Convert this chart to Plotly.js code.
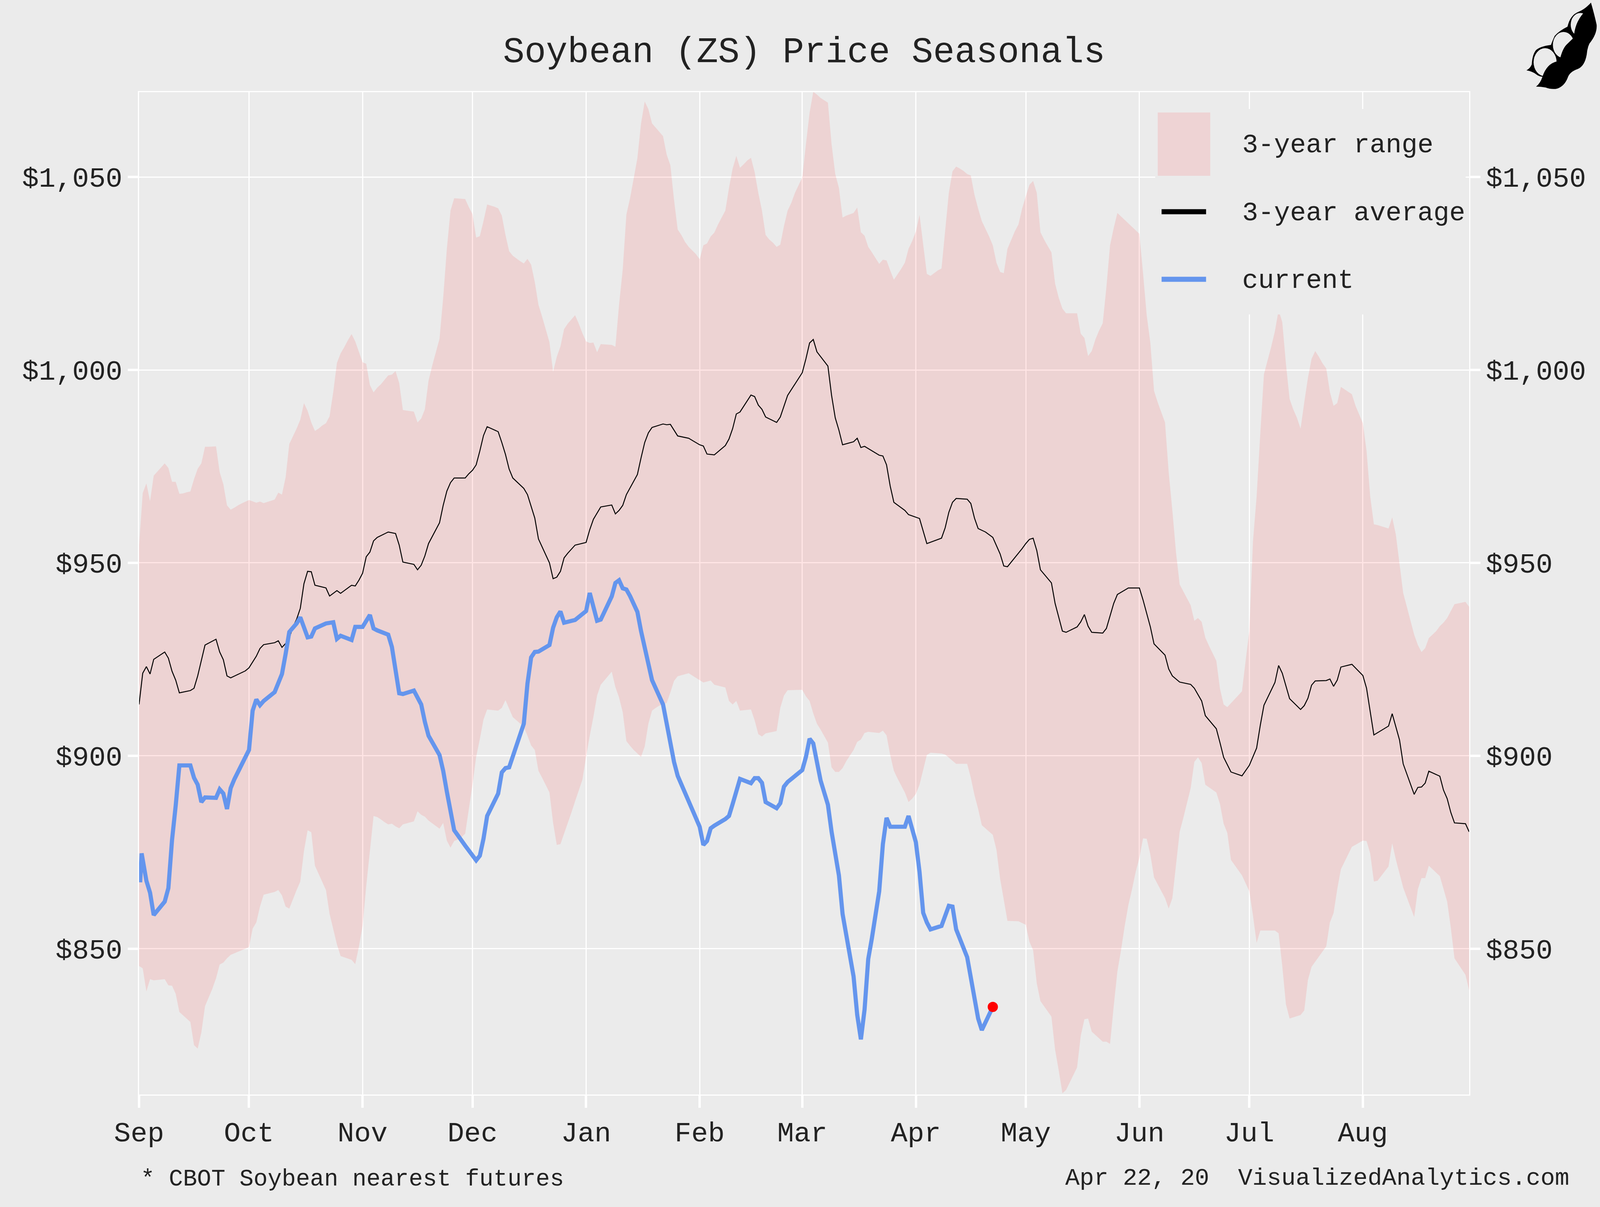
<!DOCTYPE html>
<html>
<head>
<meta charset="utf-8">
<script src="https://cdn.plot.ly/plotly-3.0.1.min.js"></script>
<style>
html, body { margin: 0; padding: 0; overflow: hidden; background: #ebebeb; }
</style>
</head>
<body>
<div id="chart"></div>
<script>
var monthDays = [0, 30, 61, 91, 122, 153, 181, 212, 242, 273, 303, 334];
var monthLabels = ['Sep', 'Oct', 'Nov', 'Dec', 'Jan', 'Feb', 'Mar', 'Apr', 'May', 'Jun', 'Jul', 'Aug'];
var priceTicks = [850, 900, 950, 1000, 1050];
var priceLabels = ['$850', '$900', '$950', '$1,000', '$1,050'];

var upperDays = [0,1,2,3,4,5,6,7,8,9,10,11,12,13,14,15,16,17,18,19,21,22,23,24,25,26,27,28,30,32,33,34,37,38,39,40,41,42,43,44,45,46,47,48,49,50,51,52,53,54,55,56,57,58,59,60,61,62,63,64,65,66,67,68,69,70,71,72,75,76,77,78,79,80,82,83,84,85,86,89,90,91,92,93,94,95,97,98,99,100,101,102,103,104,105,106,107,108,109,110,112,113,114,115,116,117,118,119,120,121,122,123,124,125,126,129,130,131,132,133,134,135,136,137,138,139,140,141,143,144,145,146,147,148,149,150,151,152,153,154,155,156,157,158,159,160,161,162,163,164,165,166,167,168,169,170,171,172,173,174,175,176,177,178,179,180,181,182,183,184,185,186,188,189,190,191,192,193,195,196,197,198,199,200,201,202,203,204,205,206,207,208,209,210,211,212,213,214,215,216,217,218,219,220,221,222,223,224,225,226,227,228,229,230,231,232,233,234,235,236,237,238,239,240,241,242,243,244,245,246,247,248,249,250,251,252,253,256,257,258,259,260,261,262,263,264,265,266,267,269,271,273,274,275,276,277,278,279,280,281,282,283,284,285,286,287,288,289,290,291,292,293,294,295,296,297,301,302,303,304,305,306,307,308,309,310,311,312,313,314,315,316,317,318,319,320,321,322,323,324,325,326,327,328,331,332,333,334,335,336,337,338,341,342,343,344,345,346,347,348,349,350,351,352,353,354,355,356,357,358,359,362,363];
var upperPrice = [954.6,968.1,970.6,966.0,972.6,973.7,974.7,975.8,974.6,971.0,971.0,967.9,968.0,968.3,968.5,971.7,974.4,975.8,980.1,980.1,980.2,973.5,970.4,964.9,963.8,964.3,964.9,965.4,966.3,965.6,965.9,965.5,966.4,968.2,967.7,972.2,980.8,982.8,984.8,987.1,991.4,989.4,986.4,984.2,984.8,985.6,986.2,988.0,994.3,1001.8,1004.3,1005.9,1007.7,1009.3,1007.4,1004.7,1002.0,1001.6,996.1,994.2,995.4,996.3,997.5,998.6,998.8,999.7,996.6,989.6,989.2,986.4,987.4,989.8,997.2,1001.1,1008.1,1018.7,1031.4,1041.3,1044.5,1044.3,1042.2,1040.4,1034.3,1034.7,1038.6,1042.9,1042.3,1041.9,1040.0,1035.0,1030.8,1029.6,1028.9,1028.2,1027.6,1028.8,1027.3,1022.8,1016.9,1013.8,1007.2,999.5,1003.4,1006.1,1010.6,1012.0,1013.1,1014.2,1012.0,1009.5,1007.4,1007.0,1007.1,1004.6,1006.7,1006.5,1006.0,1016.9,1026.0,1040.3,1044.5,1049.5,1054.9,1063.9,1069.6,1067.6,1063.9,1062.8,1060.6,1055.8,1053.1,1044.1,1036.4,1035.0,1033.2,1031.9,1030.9,1030.0,1028.7,1032.3,1032.8,1034.6,1035.6,1037.7,1039.5,1041.3,1047.2,1052.2,1055.5,1052.4,1053.3,1054.3,1055.0,1051.3,1045.9,1041.3,1035.0,1033.8,1033.0,1031.9,1032.5,1037.3,1041.3,1043.3,1045.9,1047.9,1049.9,1058.5,1066.7,1072.1,1071.4,1070.5,1069.3,1058.5,1050.8,1047.2,1039.5,1040.0,1040.7,1042.1,1035.7,1034.8,1031.9,1030.5,1029.0,1027.5,1028.6,1028.4,1025.8,1023.4,1024.8,1026.2,1027.8,1031.4,1033.4,1035.9,1040.2,1032.3,1024.9,1024.4,1025.1,1025.8,1026.3,1035.9,1045.9,1051.5,1052.7,1052.2,1051.6,1050.8,1050.4,1045.4,1041.8,1038.6,1036.6,1034.6,1032.3,1027.8,1025.4,1025.1,1031.4,1033.6,1035.9,1037.7,1041.8,1045.0,1048.0,1049.0,1045.9,1035.7,1033.8,1032.1,1030.5,1022.4,1018.7,1015.9,1014.7,1014.7,1009.4,1008.3,1003.6,1004.9,1007.9,1010.2,1012.1,1021.4,1032.3,1036.8,1040.7,1038.9,1037.1,1035.3,1025.1,1014.2,1007.0,994.6,991.6,988.9,986.4,973.5,963.6,952.7,944.4,942.6,940.8,939.0,935.0,935.7,934.7,930.6,928.5,926.6,924.6,917.4,913.3,912.6,916.7,924.6,932.3,955.5,967.2,983.5,998.9,1002.5,1006.1,1010.1,1015.5,1012.4,1001.6,992.5,989.8,987.6,984.8,991.6,997.9,1002.9,1004.9,1003.4,1001.7,1000.4,994.3,990.7,991.4,995.6,993.7,990.7,988.4,986.2,979.0,967.2,960.0,959.8,958.9,961.8,957.3,950.0,942.2,938.6,935.0,931.4,928.7,926.9,927.9,930.5,931.4,932.3,933.6,934.5,935.7,937.5,939.3,939.9,938.6];

var lowerDays = [0,1,2,3,4,7,8,9,10,11,14,15,16,17,18,19,20,21,22,23,24,25,26,30,31,32,33,34,37,38,39,40,41,42,43,44,45,46,47,48,49,50,51,52,53,54,55,58,59,60,61,62,63,64,65,66,67,68,69,70,71,72,75,76,77,78,79,80,82,83,84,85,86,87,88,89,90,91,92,93,94,95,98,99,100,101,102,103,104,105,106,107,108,109,110,112,113,114,115,116,117,118,119,120,121,122,123,124,125,126,129,130,131,132,133,134,135,137,138,139,140,141,142,144,145,146,147,150,154,156,157,160,161,162,163,164,167,168,169,170,171,174,175,176,177,181,182,183,184,185,186,188,189,190,191,192,193,195,196,197,198,199,202,203,204,205,206,207,209,210,211,212,213,215,216,219,220,223,226,227,228,229,230,233,234,235,236,237,240,242,243,244,245,246,249,250,251,252,253,256,257,258,259,260,263,264,265,266,267,268,269,270,271,272,273,274,275,276,277,278,279,280,281,282,283,284,285,287,288,289,290,291,294,295,296,297,298,301,303,304,305,306,310,311,312,313,314,317,318,319,320,324,325,326,327,328,331,334,335,336,337,338,341,342,343,345,348,349,350,351,352,355,357,358,359,362,363];
var lowerPrice = [845.5,844.9,838.9,842.1,841.8,842.1,840.5,840.4,838.3,833.6,831.0,825.0,824.1,828.3,835.1,837.4,839.6,842.3,845.9,846.4,847.5,848.4,848.8,850.4,855.2,856.8,860.9,864.0,864.7,865.2,863.8,860.9,860.4,862.9,865.2,867.4,875.3,880.7,880.2,871.5,869.4,867.2,865.2,859.0,855.0,851.1,848.1,847.1,846.0,850.5,855.9,866.3,875.3,884.4,884.1,883.5,882.8,882.2,882.4,881.7,881.2,882.2,883.0,885.6,884.7,884.2,883.2,882.5,881.1,882.6,878.0,876.2,877.9,878.3,878.9,879.8,886.2,892.5,899.7,904.3,909.4,912.0,911.7,912.4,914.4,912.2,910.0,909.2,908.3,907.5,905.2,902.7,901.5,896.1,894.3,890.5,882.6,876.9,877.1,879.8,882.6,885.3,888.2,891.1,893.8,899.7,905.2,910.1,915.6,918.4,921.8,917.8,915.1,911.3,903.8,902.6,901.5,899.7,902.4,908.3,911.7,912.4,913.0,913.7,916.4,919.4,920.6,921.4,919.0,919.5,918.4,917.7,914.2,913.3,914.2,911.7,912.0,909.2,905.6,905.0,905.8,906.4,912.4,915.6,917.0,917.1,915.4,914.2,911.0,908.3,906.8,903.4,897.0,895.8,895.8,896.8,898.6,901.5,903.6,904.2,905.9,906.2,905.9,906.5,905.3,900.2,896.1,894.1,890.5,888.0,888.9,890.1,892.5,900.2,900.8,900.6,900.3,897.9,897.9,894.3,889.8,886.2,882.0,879.5,875.6,868.1,862.7,857.2,857.1,856.2,851.8,849.6,841.0,836.4,832.4,823.8,818.4,812.5,813.4,819.2,827.4,831.7,831.9,828.5,825.9,825.9,825.3,835.1,844.1,849.6,855.9,861.3,865.4,869.9,873.5,878.6,878.5,874.4,868.5,866.7,864.9,863.1,860.4,863.1,871.7,880.3,883.9,891.6,898.4,899.6,898.1,892.5,890.5,887.5,882.4,880.0,873.0,869.0,864.9,858.6,851.5,854.7,854.7,854.0,845.5,835.6,831.9,832.8,834.0,841.9,845.3,850.6,856.8,859.2,865.4,870.6,876.4,878.0,877.9,874.7,867.4,867.6,871.3,877.3,873.1,865.8,858.2,865.4,868.3,868.3,871.5,868.8,862.2,855.4,847.5,843.2,839.2];

var avgDays = [0,1,2,3,4,7,8,9,10,11,14,15,16,17,18,21,22,23,24,25,29,30,32,33,34,37,38,39,40,41,42,43,44,45,46,47,48,51,52,53,54,55,57,58,59,60,61,62,63,64,65,67,68,70,71,72,75,76,77,78,79,82,83,84,85,86,89,90,91,92,93,94,95,98,99,100,101,102,103,105,106,108,109,110,112,113,114,115,116,117,119,122,123,124,126,129,130,131,132,133,136,137,138,139,140,143,144,145,147,150,153,154,155,157,160,161,162,163,164,167,168,169,170,171,174,175,177,181,182,183,184,185,188,189,190,191,192,195,196,197,198,202,203,204,205,206,209,210,213,215,219,220,221,222,223,226,227,228,229,231,233,235,236,237,241,242,243,244,245,246,249,250,251,252,253,256,257,258,259,260,263,264,266,267,270,273,274,276,277,280,281,282,284,287,288,290,291,294,295,296,298,301,303,305,306,307,310,311,312,314,317,318,319,320,321,324,325,326,327,328,331,334,335,337,341,342,344,345,348,349,350,351,352,355,356,357,358,359,362,363];
var avgPrice = [913.3,921.4,923.1,921.2,925.0,926.9,925.3,921.9,919.6,916.3,916.9,917.5,920.7,924.6,928.7,930.2,926.9,924.9,920.7,920.2,922.0,922.8,925.8,927.8,928.8,929.3,929.8,928.1,929.1,930.5,933.4,935.4,938.2,944.6,947.8,947.7,944.2,943.5,941.4,942.1,942.8,942.1,943.5,944.2,944.0,945.5,947.3,951.6,952.8,955.7,956.6,957.5,958.0,957.6,954.6,950.2,949.6,948.2,949.4,951.8,955.0,960.4,964.9,968.6,970.8,972.0,972.0,973.1,974.0,975.4,979.0,983.0,985.3,984.0,981.2,978.1,974.3,972.0,971.1,969.3,967.7,961.6,956.2,954.1,950.0,945.9,946.3,947.8,951.3,952.5,954.6,955.3,958.6,961.3,964.5,965.0,962.7,963.6,964.9,967.7,972.9,977.2,981.2,983.7,985.1,986.0,985.8,985.9,982.9,982.3,980.6,980.3,978.2,978.0,980.4,982.1,984.8,988.6,989.1,993.5,993.1,990.9,989.8,987.8,986.4,987.8,993.4,999.3,1002.9,1007.0,1007.9,1004.7,1001.0,993.4,987.6,984.4,980.6,981.4,982.3,979.9,980.2,977.9,977.7,975.4,969.9,965.7,963.6,962.5,961.5,955.0,956.4,959.1,963.1,965.7,966.7,966.5,965.4,961.6,958.9,958.0,956.6,952.3,949.2,949.0,953.7,955.0,956.1,956.4,953.2,948.2,944.8,939.5,935.9,932.3,932.0,933.4,934.7,936.6,933.6,932.0,931.8,933.0,939.5,941.8,943.5,943.5,940.4,933.4,929.0,926.1,922.5,920.7,919.1,918.5,917.5,914.2,910.4,907.0,903.4,899.6,895.8,894.8,897.5,902.0,907.9,913.1,919.0,923.4,921.4,914.8,912.0,913.0,914.9,918.3,919.4,919.5,919.9,918.0,919.6,923.0,923.7,920.8,917.5,905.4,907.7,910.9,904.1,897.9,890.0,891.8,891.9,892.9,896.0,894.7,891.1,888.9,885.3,882.6,882.4,880.3];

var currentDays = [0.3,0.7,2,3,4,5,7,8,9,10,11,14,15,16,17,18,21,22,23,24,25,26,30,31,32,33,34,37,39,40,41,43,44,46,47,48,51,53,54,55,58,59,61,63,64,65,68,69,70,71,72,75,76,77,78,79,82,83,84,85,86,89,90,92,93,94,95,98,99,100,101,103,105,106,107,108,109,112,113,114,115,116,119,122,123,124,125,126,129,130,131,132,133,134,135,136,137,138,139,140,143,144,145,146,147,150,153,154,155,156,157,160,161,162,163,164,167,168,169,170,171,174,175,176,177,181,182,183,184,185,186,188,189,191,192,193,195,196,197,198,199,200,201,202,203,204,205,209,210,211,212,213,214,215,216,219,220,221,222,223,226,227,228,229,230,232,233];
var currentPrice = [867.2,874.7,867.6,864.5,858.7,860.0,862.2,865.7,878.2,887.1,897.5,897.5,894.3,892.5,888.0,889.2,889.1,891.3,890.2,886.2,891.6,893.9,901.5,911.7,914.6,913.1,914.2,916.5,921.2,926.4,932.1,934.3,935.9,930.7,930.9,933.0,934.3,934.6,930.3,931.1,930.0,933.4,933.4,936.5,933.0,932.5,931.4,928.2,921.4,916.2,916.0,916.9,915.1,913.3,908.8,905.2,900.2,896.1,890.7,885.7,880.7,876.7,875.3,872.9,874.1,878.5,884.4,890.2,895.7,896.8,897.0,902.4,908.3,918.7,925.5,926.9,927.0,928.7,933.2,935.9,937.4,934.5,935.2,937.5,942.2,938.6,935.0,935.3,941.3,944.8,945.5,943.4,943.1,941.4,939.6,937.3,932.3,927.8,922.8,919.6,913.3,908.3,902.5,898.4,894.8,888.0,881.6,876.9,877.9,881.2,881.9,883.6,884.4,887.5,891.1,894.0,892.9,894.2,894.2,893.0,888.0,886.4,887.7,892.0,893.2,896.3,899.7,904.4,903.2,897.9,893.6,887.3,880.3,869.0,859.0,853.6,842.8,832.8,826.5,834.2,847.3,852.7,858.1,864.9,877.1,883.9,881.6,881.6,884.4,880.7,877.6,869.9,859.3,856.8,855.0,855.9,858.6,861.1,860.9,855.0,847.8,842.3,836.4,831.9,828.9,832.6,834.9];

var lastDay = [233];
var lastPrice = [834.9];

var legendNames = ['3-year range', '3-year average', 'current'];

const bg = '#ebebeb';
const monoFont = 'Liberation Mono, monospace';
const rangeFill = 'rgba(255,0,0,0.1)';
const textColor = '#222';

// all sizes below are measured on the 5000x3090 reference, then scaled to the real window
const W = 5000, H = 3090;
const L = 435, R = 4591, T = 236, B = 2802;
const pageW = window.innerWidth, pageH = window.innerHeight;
const sx = pageW / W, sy = pageH / H, k = Math.min(sx, sy);
var paperX = function(px) { return (px - L) / (R - L); };
var paperY = function(py) { return (B - py) / (B - T); };

var beanSvg = "<svg xmlns='http://www.w3.org/2000/svg' viewBox='0 0 900 780' preserveAspectRatio='none'>" +
  "<path fill='black' d='M815,20 Q760,70 700,90 Q620,115 595,205 Q520,235 475,275 Q450,320 440,345 Q340,355 300,385 Q265,420 260,495 Q245,525 210,540 Q270,550 300,570 Q330,590 370,590 L600,500 L820,200 Z'/>" +
  "<circle fill='#ebebeb' cx='385' cy='478' r='108'/><circle fill='#ebebeb' cx='558' cy='345' r='100'/><circle fill='#ebebeb' cx='715' cy='190' r='90'/>" +
  "<path fill='black' d='M815,20 Q850,120 868,190 Q875,260 800,335 Q780,370 775,420 Q755,510 690,530 Q620,550 600,590 Q570,660 500,680 Q450,690 390,672 Q345,665 300,665 Q340,640 360,590 Q400,490 495,472 L525,452 Q550,370 590,340 L655,288 Q660,180 745,100 Q790,60 815,20 Z'/></svg>";

var data = [
  { x: lowerDays, y: lowerPrice, type: 'scatter', mode: 'lines', line: { width: 0 }, hoverinfo: 'skip' },
  { x: upperDays, y: upperPrice, type: 'scatter', mode: 'lines', line: { width: 0 }, fill: 'tonexty', fillcolor: rangeFill, name: legendNames[0] },
  { x: avgDays, y: avgPrice, type: 'scatter', mode: 'lines', line: { color: 'black', width: 3 * k }, name: legendNames[1] },
  { x: currentDays, y: currentPrice, type: 'scatter', mode: 'lines', line: { color: 'cornflowerblue', width: 13 * k }, name: legendNames[2] },
  // on y2 so that the right axis gets drawn
  { x: lastDay, y: lastPrice, yaxis: 'y2', type: 'scatter', mode: 'markers', marker: { color: 'red', size: 32 * k } }
];

var tickFont = { family: monoFont, size: 87 * k, color: textColor };
var legendFont = { family: monoFont, size: 83 * k, color: textColor };

var axisStyle = {
  showgrid: true, gridcolor: 'white', gridwidth: 4 * k,
  showline: true, linecolor: 'white', linewidth: 4 * k,
  ticks: 'outside', tickwidth: 7 * k, tickcolor: 'white',
  tickmode: 'array', tickfont: tickFont, zeroline: false
};

function legendText(name, py) {
  return { text: name, xref: 'paper', yref: 'paper', x: paperX(3879), y: paperY(py), xanchor: 'left', yanchor: 'middle', showarrow: false, font: legendFont };
}

var layout = {
  width: pageW, height: pageH,
  paper_bgcolor: bg, plot_bgcolor: bg,
  margin: { l: L * sx, r: (W - R) * sx, t: T * sy, b: (H - B) * sy },
  showlegend: false,
  title: {
    text: 'Soybean (ZS) Price Seasonals',
    font: { family: monoFont, size: 112 * k, color: textColor },
    xref: 'paper', x: 0.5, xanchor: 'center',
    yref: 'container', y: 1 - 127 / H, yanchor: 'middle'
  },
  xaxis: Object.assign({}, axisStyle, { range: [0, 363], tickvals: monthDays, ticktext: monthLabels, mirror: true, ticklen: 31 * sy, ticklabelstandoff: 0 }),
  yaxis: Object.assign({}, axisStyle, { range: [812.2, 1072], tickvals: priceTicks, ticktext: priceLabels, mirror: true, ticklen: 31 * sx }),
  yaxis2: Object.assign({}, axisStyle, { range: [812.2, 1072], tickvals: priceTicks, ticktext: priceLabels, overlaying: 'y', side: 'right', showgrid: false, ticklen: 31 * sx }),
  shapes: [
    // legend box hides the grid and the fill behind it
    { type: 'rect', xref: 'paper', yref: 'paper', layer: 'above', x0: paperX(3610), x1: paperX(4580), y0: paperY(805), y1: paperY(279), fillcolor: bg, line: { width: 0 } },
    { type: 'rect', xref: 'paper', yref: 'paper', layer: 'above', x0: paperX(3618), x1: paperX(3782), y0: paperY(450), y1: paperY(288), fillcolor: 'rgb(238,211,212)', line: { width: 0 } },
    { type: 'line', xref: 'paper', yref: 'paper', layer: 'above', x0: paperX(3630), x1: paperX(3769), y0: paperY(542), y1: paperY(542), line: { color: 'black', width: 16 * k } },
    { type: 'line', xref: 'paper', yref: 'paper', layer: 'above', x0: paperX(3630), x1: paperX(3769), y0: paperY(715), y1: paperY(715), line: { color: 'cornflowerblue', width: 16 * k } }
  ],
  annotations: [
    legendText(legendNames[0], 372),
    legendText(legendNames[1], 545),
    legendText(legendNames[2], 718),
    { text: '* CBOT Soybean nearest futures', xref: 'paper', yref: 'paper', x: paperX(437), y: paperY(3019), xanchor: 'left', yanchor: 'middle', showarrow: false, font: { family: monoFont, size: 73.5 * k, color: textColor } },
    { text: 'Apr 22, 20  VisualizedAnalytics.com', xref: 'paper', yref: 'paper', x: paperX(4906), y: paperY(3017), xanchor: 'right', yanchor: 'middle', showarrow: false, font: { family: monoFont, size: 75 * k, color: textColor } }
  ],
  images: [{
    source: 'data:image/svg+xml;utf8,' + encodeURIComponent(beanSvg),
    xref: 'paper', yref: 'paper', x: paperX(4700), y: paperY(0),
    sizex: 300 / (R - L), sizey: 260 / (B - T), xanchor: 'left', yanchor: 'top',
    sizing: 'stretch', layer: 'above'
  }]
};

Plotly.newPlot('chart', data, layout, { displayModeBar: false });
</script>
</body>
</html>
